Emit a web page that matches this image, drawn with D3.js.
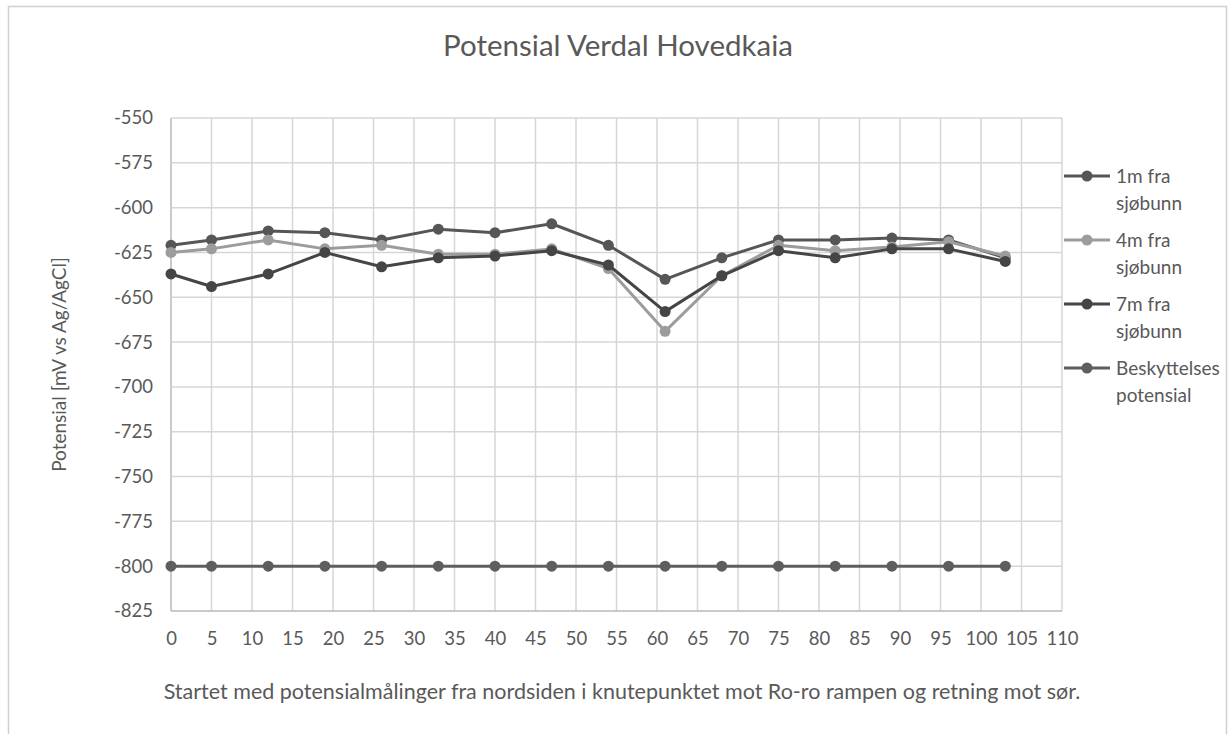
<!DOCTYPE html>
<html>
<head>
<meta charset="utf-8">
<title>Potensial Verdal Hovedkaia</title>
<script src="https://d3js.org/d3.v7.min.js"></script>
<style>
  body { margin: 0; background: #fff; }
  text { font-family: Lato, "Open Sans", sans-serif; fill: #595959; }
</style>
</head>
<body>
<div id="chartContainer"></div>
<script>
// measuring points (m along the quay)
var distance = [0, 5, 12, 19, 26, 33, 40, 47, 54, 61, 68, 75, 82, 89, 96, 103];

// potentials in mV vs Ag/AgCl
var m1 = [-621, -618, -613, -614, -618, -612, -614, -609, -621, -640, -628, -618, -618, -617, -618, -628];
var m4 = [-625, -623, -618, -623, -621, -626, -626, -623, -634, -669, -638, -621, -624, -622, -619, -627];
var m7 = [-637, -644, -637, -625, -633, -628, -627, -624, -632, -658, -638, -624, -628, -623, -623, -630];
var protection = [-800, -800, -800, -800, -800, -800, -800, -800, -800, -800, -800, -800, -800, -800, -800, -800];

var seriesNames = ["1m fra|sjøbunn", "4m fra|sjøbunn", "7m fra|sjøbunn", "Beskyttelses|potensial"];
var seriesValues = [m1, m4, m7, protection];
var seriesColors = ["#565656", "#9c9c9c", "#454545", "#5e5e5e"];

var xTicks = d3.range(0, 111, 5);
var yTicks = d3.range(-550, -826, -25);

var W = 1228, H = 734;
var svg = d3.select("#chartContainer").append("svg")
    .attr("width", W).attr("height", H);

// chart frame
svg.append("path")
    .attr("d", "M8.5,740 V6.5 H1226.5 V740")
    .attr("fill", "none")
    .attr("stroke", "#d0d0d0")
    .attr("stroke-width", 1.5);

var x = d3.scaleLinear().domain([0, 110]).range([171, 1062]);
var y = d3.scaleLinear().domain([-550, -825]).range([118, 611]);

// gridlines
svg.append("g").selectAll("line").data(xTicks).enter().append("line")
    .attr("x1", function (d) { return x(d); }).attr("x2", function (d) { return x(d); })
    .attr("y1", y(-550)).attr("y2", y(-825))
    .attr("stroke", function (d) { return d === 0 ? "#b8b8b8" : "#d6d6d6"; })
    .attr("stroke-width", 1.5);
svg.append("g").selectAll("line").data(yTicks).enter().append("line")
    .attr("x1", x(0)).attr("x2", x(110))
    .attr("y1", function (d) { return y(d); }).attr("y2", function (d) { return y(d); })
    .attr("stroke", function (d) { return d === -825 ? "#b8b8b8" : "#d6d6d6"; })
    .attr("stroke-width", 1.5);

// axes (labels only)
var yAxis = svg.append("g")
    .attr("transform", "translate(" + (x(0) - 18) + ",0)")
    .call(d3.axisLeft(y).tickValues(yTicks).tickSize(0).tickPadding(0)
        .tickFormat(function (d) { return String(d); }));
var xAxis = svg.append("g")
    .attr("transform", "translate(0," + (y(-825) + 21) + ")")
    .call(d3.axisBottom(x).tickValues(xTicks).tickSize(0).tickPadding(0)
        .tickFormat(function (d) { return String(d); }));
[yAxis, xAxis].forEach(function (a) {
    a.select(".domain").remove();
    a.selectAll("text")
        .style("font-family", "Lato, 'Open Sans', sans-serif")
        .style("font-size", "18.5px")
        .attr("fill", "#595959");
});

// series
var line = d3.line()
    .x(function (d, i) { return x(distance[i]); })
    .y(function (d) { return y(d); });

seriesValues.forEach(function (vals, k) {
    var g = svg.append("g");
    g.append("path")
        .datum(vals)
        .attr("d", line)
        .attr("fill", "none")
        .attr("stroke", seriesColors[k])
        .attr("stroke-width", 3)
        .attr("stroke-linejoin", "round");
    g.selectAll("circle").data(vals).enter().append("circle")
        .attr("cx", function (d, i) { return x(distance[i]); })
        .attr("cy", function (d) { return y(d); })
        .attr("r", 5.5)
        .attr("fill", seriesColors[k]);
});

// title
svg.append("text")
    .attr("x", 618).attr("y", 56)
    .attr("text-anchor", "middle")
    .style("font-size", "29.5px")
    .text("Potensial Verdal Hovedkaia");

// y axis title
svg.append("text")
    .attr("transform", "translate(66," + ((y(-550) + y(-825)) / 2) + ") rotate(-90)")
    .attr("text-anchor", "middle")
    .style("font-size", "19px")
    .text("Potensial [mV vs Ag/AgCl]");

// x axis title
svg.append("text")
    .attr("x", 622).attr("y", 699)
    .attr("text-anchor", "middle")
    .style("font-size", "21.5px")
    .text("Startet med potensialmålinger fra nordsiden i knutepunktet mot Ro-ro rampen og retning mot sør.");

// legend
var legend = svg.append("g");
seriesNames.forEach(function (name, k) {
    var ly = 176 + k * 64;
    legend.append("line")
        .attr("x1", 1064).attr("x2", 1110)
        .attr("y1", ly).attr("y2", ly)
        .attr("stroke", seriesColors[k]).attr("stroke-width", 3);
    legend.append("circle")
        .attr("cx", 1087).attr("cy", ly).attr("r", 5.5)
        .attr("fill", seriesColors[k]);
    var t = legend.append("text")
        .attr("x", 1116).attr("y", ly + 6.5)
        .style("font-size", "19px");
    name.split("|").forEach(function (part, j) {
        t.append("tspan")
            .attr("x", 1116)
            .attr("dy", j === 0 ? 0 : 27)
            .text(part);
    });
});
</script>
</body>
</html>
